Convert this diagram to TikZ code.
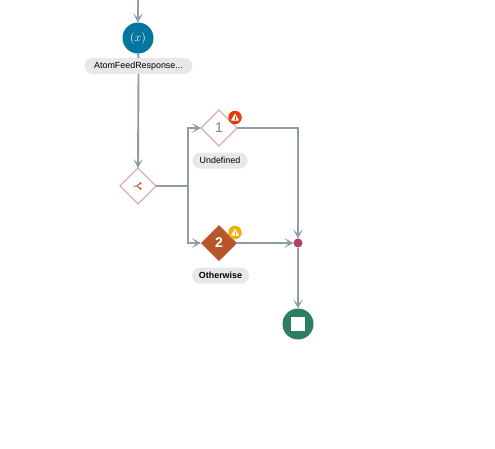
\documentclass[tikz,border=0pt]{standalone}
\usepackage{fontspec}
\setmainfont{Liberation Sans}
\usetikzlibrary{arrows.meta,shapes.geometric}
\definecolor{flow}{HTML}{8E9CA8}
\definecolor{teal}{HTML}{04759F}
\definecolor{pill}{HTML}{E8E8E8}
\definecolor{gwline}{HTML}{D9AEB9}
\definecolor{rust}{HTML}{B8562B}
\definecolor{joinc}{HTML}{B0406A}
\definecolor{endc}{HTML}{2C7D62}
\definecolor{redw}{HTML}{E03C0C}
\definecolor{yelw}{HTML}{F0AE0A}
\definecolor{splitc}{HTML}{D0562E}
\tikzset{
  x=1pt,y=-1pt,
  flowline/.style={draw=flow,line width=1.9pt,-{Stealth[length=9pt,width=9.5pt,inset=4.5pt]}},
  plainline/.style={draw=flow,line width=1.9pt},
  pillbox/.style={rounded corners=8pt,fill=pill,minimum height=16pt,inner sep=0pt,outer sep=0pt,font=\fontsize{8.9}{10}\selectfont,text=black},
  gwbox/.style={diamond,aspect=1,draw=gwline,line width=1.1pt,fill=white,minimum size=36pt,inner sep=0pt,outer sep=0pt},
  warnbadge/.style={circle,minimum size=13.5pt,inner sep=0pt,outer sep=0pt},
  warntri/.style={fill=white,draw=white,line width=.8pt,line join=round},
}
\begin{document}
\begin{tikzpicture}
\useasboundingbox (0,0) rectangle (495,448);
\fill[white] (0,0) rectangle (495,448);
\coordinate (top) at (138,0);
\coordinate (branch) at (188,186);
\coordinate (up) at (188,128);
\coordinate (down) at (188,243);
\coordinate (corner) at (298,128);
\node[gwbox] (split) at (138,186) {};
\node[gwbox] (one) at (219,128) {\textcolor{gray}{\fontsize{14}{14}\selectfont 1}};
\node[diamond,aspect=1,fill=rust,minimum size=36pt,inner sep=0pt,outer sep=0pt,text=white,font=\fontsize{14}{14}\selectfont\bfseries] (two) at (219,243) {2};
\node[circle,fill=joinc,minimum size=9pt,inner sep=0pt,outer sep=0pt] (join) at (298,243) {};
\node[circle,fill=endc,minimum size=31pt,inner sep=0pt,outer sep=0pt] (stop) at (298,324) {};
\node[fill=white,minimum size=14pt,inner sep=0pt] (stopmark) at (298,324) {};
\draw[plainline] (split.east) -- (branch);
\draw[flowline] (branch) -- (up) -- (one.west);
\draw[flowline] (branch) -- (down) -- (two.west);
\draw[flowline] (one.east) -- (corner) -- (join.north);
\draw[flowline] (two.east) -- (join.west);
\draw[flowline] (join.south) -- (stop.north);
\node[circle,fill=teal,minimum size=31pt,inner sep=0pt,outer sep=0pt,text=white,font=\fontsize{12}{12}\selectfont] (fx) at (138,38) {$(x)$};
\node[pillbox,minimum width=108pt] (fxlabel) at (138.5,66) {AtomFeedResponse...};
\draw[flowline] (top) -- (fx.north);
\draw[plainline] (fx.south) -- (fxlabel.north);
\draw[flowline] (fxlabel.south) -- (split.north);
\node[warnbadge,fill=redw] (warnone) at (235,117.5) {};
\node[warnbadge,fill=yelw] (warntwo) at (235,232.5) {};
\draw[warntri] ([shift={(0,-3.2)}]warnone.center) -- ([shift={(3.4,2.6)}]warnone.center) -- ([shift={(-3.4,2.6)}]warnone.center) -- cycle;
\draw[redw,line width=.9pt] ([shift={(0,-1.2)}]warnone.center) -- ([shift={(0,1.1)}]warnone.center) ([shift={(0,1.7)}]warnone.center) -- ([shift={(0,2.5)}]warnone.center);
\draw[warntri] ([shift={(0,-3.2)}]warntwo.center) -- ([shift={(3.4,2.6)}]warntwo.center) -- ([shift={(-3.4,2.6)}]warntwo.center) -- cycle;
\draw[yelw,line width=.9pt] ([shift={(0,-1.2)}]warntwo.center) -- ([shift={(0,1.1)}]warntwo.center) ([shift={(0,1.7)}]warntwo.center) -- ([shift={(0,2.5)}]warntwo.center);
\node[pillbox,minimum width=55pt] (undef) at (220,160.5) {Undefined};
\node[pillbox,minimum width=57pt,font=\fontsize{8.9}{10}\selectfont\bfseries] (other) at (220.5,275.5) {Otherwise};
\draw[splitc,line width=1pt] (133.5,186) -- (137,186) (137,186) -- (140,183.5) (137,186) -- (140,188.5);
\fill[splitc] (140.3,183.3) circle (1.3pt) (140.3,188.7) circle (1.3pt);
\end{tikzpicture}
\end{document}
